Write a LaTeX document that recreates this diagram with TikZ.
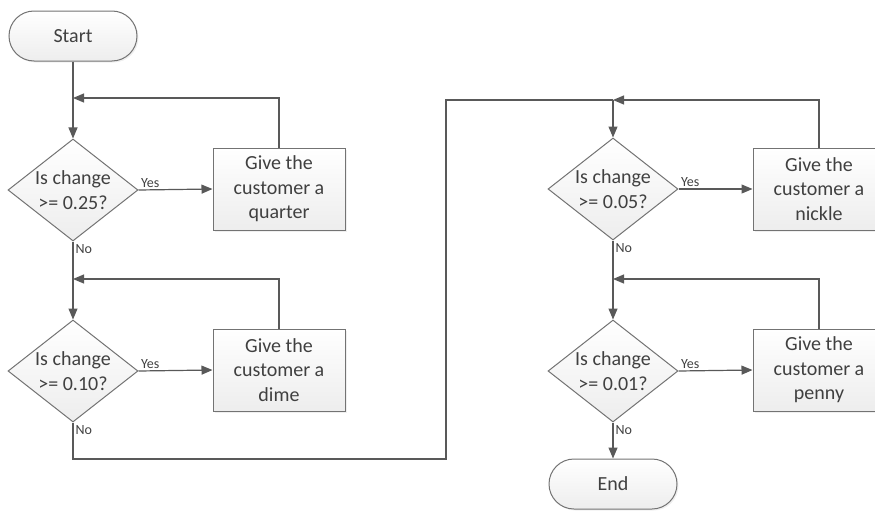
\documentclass[tikz,border=0pt]{standalone}
\usepackage{fontspec}
\setmainfont{Carlito}
\usetikzlibrary{arrows.meta, positioning, shapes.geometric, shadows}
\definecolor{Line}{rgb}{0.35, 0.35, 0.35}
\definecolor{Edge}{rgb}{0.45, 0.45, 0.45}
\definecolor{Ink}{rgb}{0.25, 0.25, 0.25}
\definecolor{Fill}{rgb}{0.93, 0.93, 0.93}

\begin{document}
\begin{tikzpicture}[
  x=1pt, y=-1pt,
  base/.style={
    draw=Edge,
    line width=1pt,
    align=center,
    font=\fontsize{20}{24.4}\selectfont,
    text=Ink,
    top color=white,
    bottom color=Fill
  },
  terminal/.style={
    base,
    rectangle,
    rounded corners=25pt,
    minimum width=128pt,
    minimum height=50pt,
    drop shadow={shadow xshift=1.5pt, shadow yshift=-1.5pt, fill=gray!25}
  },
  decision/.style={
    base,
    diamond,
    aspect=1.27,
    inner sep=0pt,
    minimum width=130pt,
    minimum height=102pt
  },
  process/.style={
    base,
    rectangle,
    minimum width=132pt,
    minimum height=82pt,
    inner sep=2pt,
    drop shadow={shadow xshift=1.5pt, shadow yshift=-1.5pt, fill=gray!25}
  },
  lbl/.style={
    font=\fontsize{14}{16}\selectfont,
    text=Ink,
    inner sep=2pt
  },
  arrow/.style={
    -{Triangle[length=11pt, width=9pt]},
    line width=1.2pt,
    color=Line
  },
  line/.style={
    line width=1.2pt,
    color=Line
  }
]
\useasboundingbox (0,0) rectangle (875,514);
\clip (0,0) rectangle (875,514);

% Nodes
\node[terminal] (start) at (73,36)  {Start};
\node[decision] (q25)   at (73,190) {Is change\\>= 0.25?};
\node[process]  (quarter) at (279,189) {Give the\\customer a\\quarter};
\node[decision] (q10)   at (73,371) {Is change\\>= 0.10?};
\node[process]  (dime)  at (279,370) {Give the\\customer a\\dime};
\node[decision] (q05)   at (613,189) {Is change\\>= 0.05?};
\node[process]  (nickle) at (819,189) {Give the\\customer a\\nickle};
\node[decision] (q01)   at (613,371) {Is change\\>= 0.01?};
\node[process]  (penny) at (819,370) {Give the\\customer a\\penny};
\node[terminal] (end)   at (613,484) {End};

% Joints
\coordinate (j25) at (73,98);
\coordinate (j10) at (73,279);
\coordinate (j05) at (613,100);
\coordinate (j01) at (613,279);
\coordinate (cross) at (446,459);

% Arrows, left column
\draw[arrow] (start) -- (q25);
\draw[arrow] (q25.east) node[lbl, above right] {Yes} -- (quarter.west);
\draw[arrow] (quarter.north) |- (j25);
\draw[arrow] (q25.south) node[lbl, below right] {No} -- (q10.north);
\draw[arrow] (q10.east) node[lbl, above right] {Yes} -- (dime.west);
\draw[arrow] (dime.north) |- (j10);

% Crossing to the right column
\draw[line] (q10.south) node[lbl, below right] {No} |- (cross) |- (j05);

% Arrows, right column
\draw[arrow] (j05) -- (q05.north);
\draw[arrow] (q05.east) node[lbl, above right] {Yes} -- (nickle.west);
\draw[arrow] (nickle.north) |- (j05);
\draw[arrow] (q05.south) node[lbl, below right] {No} -- (q01.north);
\draw[arrow] (q01.east) node[lbl, above right] {Yes} -- (penny.west);
\draw[arrow] (penny.north) |- (j01);
\draw[arrow] (q01.south) node[lbl, below right] {No} -- (end);

\end{tikzpicture}
\end{document}
